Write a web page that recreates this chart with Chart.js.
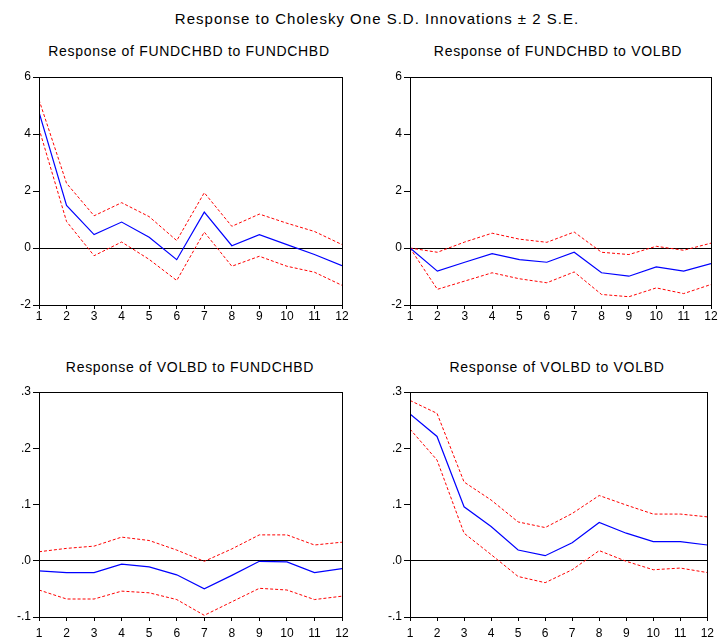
<!DOCTYPE html>
<html>
<head>
<meta charset="utf-8">
<script src="https://cdn.jsdelivr.net/npm/chart.js@4.4.0/dist/chart.umd.min.js"></script>
<style>
  body { margin: 0; background: #fff; width: 719px; height: 639px; position: relative; overflow: hidden; font-family: "Liberation Sans", Arial, sans-serif; }
  .ttl { position: absolute; color: #000; white-space: nowrap; transform: translate(-50%, -50%); }
  .main { font-size: 15px; letter-spacing: 1px; }
  .sub { font-size: 14px; letter-spacing: 0.7px; }
  canvas { position: absolute; }
</style>
</head>
<body>
<div class="ttl main" style="left:377px;top:18px">Response to Cholesky One S.D. Innovations ± 2 S.E.</div>
<div class="ttl sub" style="left:189px;top:51px">Response of FUNDCHBD to FUNDCHBD</div>
<div class="ttl sub" style="left:558px;top:51px">Response of FUNDCHBD to VOLBD</div>
<div class="ttl sub" style="left:190px;top:367px">Response of VOLBD to FUNDCHBD</div>
<div class="ttl sub" style="left:557px;top:367px">Response of VOLBD to VOLBD</div>

<canvas id="c1" width="355" height="270" style="left:0;top:60px"></canvas>
<canvas id="c2" width="359" height="270" style="left:360px;top:60px"></canvas>
<canvas id="c3" width="355" height="269" style="left:0;top:370px"></canvas>
<canvas id="c4" width="359" height="269" style="left:360px;top:370px"></canvas>

<script>
const periods = [1, 2, 3, 4, 5, 6, 7, 8, 9, 10, 11, 12];

// FUNDCHBD -> FUNDCHBD
const ff_resp  = [4.77, 1.49, 0.47, 0.91, 0.38, -0.41, 1.26, 0.08, 0.47, 0.12, -0.23, -0.62];
const ff_upper = [5.20, 2.27, 1.13, 1.59, 1.10, 0.26, 1.94, 0.76, 1.19, 0.87, 0.58, 0.12];
const ff_lower = [4.19, 0.93, -0.27, 0.21, -0.40, -1.14, 0.56, -0.64, -0.29, -0.64, -0.85, -1.31];

// FUNDCHBD -> VOLBD
const fv_resp  = [0, -0.81, -0.50, -0.20, -0.41, -0.50, -0.15, -0.87, -0.99, -0.66, -0.81, -0.55];
const fv_upper = [0, -0.15, 0.21, 0.52, 0.31, 0.20, 0.56, -0.15, -0.23, 0.06, -0.08, 0.17];
const fv_lower = [0, -1.45, -1.16, -0.87, -1.08, -1.22, -0.84, -1.63, -1.71, -1.40, -1.60, -1.28];

// VOLBD -> FUNDCHBD
const vf_resp  = [-0.018, -0.021, -0.021, -0.006, -0.011, -0.025, -0.050, -0.026, -0.001, -0.002, -0.021, -0.014];
const vf_upper = [0.016, 0.022, 0.026, 0.042, 0.036, 0.019, -0.001, 0.021, 0.046, 0.046, 0.028, 0.033];
const vf_lower = [-0.052, -0.068, -0.068, -0.054, -0.057, -0.069, -0.097, -0.073, -0.049, -0.052, -0.069, -0.063];

// VOLBD -> VOLBD
const vv_resp  = [0.261, 0.221, 0.096, 0.061, 0.019, 0.009, 0.032, 0.068, 0.049, 0.034, 0.034, 0.028];
const vv_upper = [0.285, 0.262, 0.140, 0.108, 0.069, 0.059, 0.084, 0.116, 0.099, 0.083, 0.083, 0.078];
const vv_lower = [0.234, 0.179, 0.049, 0.011, -0.028, -0.039, -0.016, 0.018, -0.001, -0.016, -0.013, -0.021];

const topTicks = { min: -2, max: 6, step: 2 };
const botTicks = { min: -0.1, max: 0.3, step: 0.1 };

// cadre noir autour de la zone du graphique
const framePlugin = {
    id: 'frame',
    afterDatasetsDraw(chart) {
        const a = chart.chartArea;
        const c = chart.ctx;
        c.save();
        c.strokeStyle = '#000';
        c.lineWidth = 1;
        c.strokeRect(Math.round(a.left) + 0.5, Math.round(a.top) + 0.5,
                     Math.round(a.right - a.left), Math.round(a.bottom - a.top));
        c.restore();
    }
};

function pts(arr) {
    return arr.map((v, i) => ({ x: periods[i], y: v }));
}

function fmtSmall(v) {
    const s = (Math.round(v * 10) / 10).toFixed(1);
    return s.replace(/^(-?)0\./, '$1.');
}

function makeChart(id, resp, upper, lower, yr, small, yWidth, padTop, padRight, xHeight, xPad) {
    const red = {
        borderColor: '#ff0000',
        borderWidth: 1,
        borderDash: [3, 2],
        pointRadius: 0,
        fill: false
    };
    return new Chart(document.getElementById(id), {
        type: 'line',
        data: {
            datasets: [
                { data: pts(resp), borderColor: '#0000ff', borderWidth: 1.2, pointRadius: 0, fill: false },
                Object.assign({ data: pts(upper) }, red),
                Object.assign({ data: pts(lower) }, red)
            ]
        },
        options: {
            responsive: false,
            animation: false,
            devicePixelRatio: 1,
            layout: { padding: { top: padTop, right: padRight, left: 0, bottom: 0 } },
            plugins: {
                legend: { display: false },
                tooltip: { enabled: false }
            },
            scales: {
                x: {
                    type: 'linear',
                    min: 1,
                    max: 12,
                    afterFit: s => { s.height = xHeight; },
                    border: { color: '#000' },
                    grid: { drawOnChartArea: false, tickLength: 4, tickColor: '#000' },
                    ticks: {
                        stepSize: 1,
                        autoSkip: false,
                        maxRotation: 0,
                        color: '#000',
                        padding: xPad,
                        font: { family: 'Liberation Sans', size: 12 }
                    }
                },
                y: {
                    min: yr.min,
                    max: yr.max,
                    afterFit: s => { s.width = yWidth; },
                    border: { color: '#000' },
                    grid: {
                        tickLength: 6,
                        tickColor: '#000',
                        lineWidth: 1,
                        color: c => (c.tick && Math.abs(c.tick.value) < 1e-9) ? '#000' : 'rgba(0,0,0,0)'
                    },
                    ticks: {
                        stepSize: yr.step,
                        color: '#000',
                        padding: 2,
                        font: { family: 'Liberation Sans', size: 12 },
                        callback: v => small ? fmtSmall(v) : String(Math.round(v))
                    }
                }
            }
        },
        plugins: [framePlugin]
    });
}

makeChart('c1', ff_resp, ff_upper, ff_lower, topTicks, false, 39, 17, 13, 25, 0);
makeChart('c2', fv_resp, fv_upper, fv_lower, topTicks, false, 50, 17, 8, 25, 0);
makeChart('c3', vf_resp, vf_upper, vf_lower, botTicks, true, 39, 22, 13, 22, 5);
makeChart('c4', vv_resp, vv_upper, vv_lower, botTicks, true, 50, 22, 8, 22, 5);
</script>
</body>
</html>
